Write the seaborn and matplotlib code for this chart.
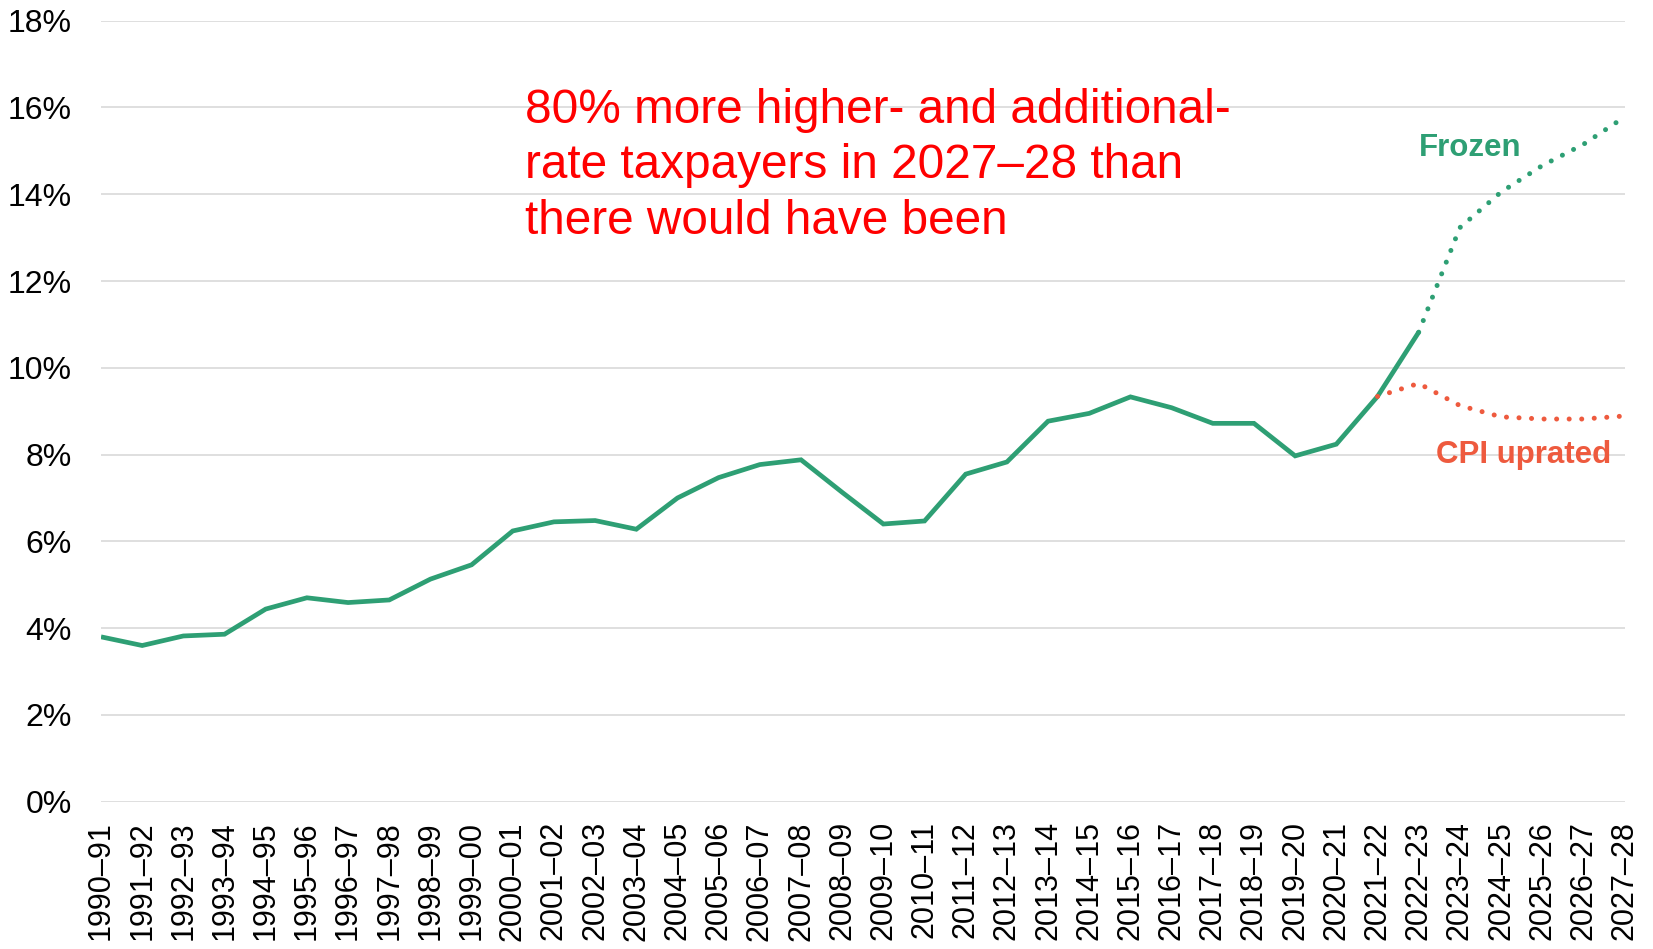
import matplotlib
matplotlib.use("Agg")
import matplotlib.pyplot as plt
import seaborn as sns
import pandas as pd
from matplotlib.ticker import FuncFormatter, MultipleLocator

# Financial years on the x axis
years = [
    "1990–91", "1991–92", "1992–93", "1993–94", "1994–95", "1995–96", "1996–97",
    "1997–98", "1998–99", "1999–00", "2000–01", "2001–02", "2002–03", "2003–04",
    "2004–05", "2005–06", "2006–07", "2007–08", "2008–09", "2009–10", "2010–11",
    "2011–12", "2012–13", "2013–14", "2014–15", "2015–16", "2016–17", "2017–18",
    "2018–19", "2019–20", "2020–21", "2021–22", "2022–23", "2023–24", "2024–25",
    "2025–26", "2026–27", "2027–28",
]

# Share of adults paying higher/additional rate (%), outturn 1990–91 to 2022–23
outturn = [
    3.80, 3.60, 3.82, 3.86, 4.44, 4.70, 4.59, 4.65, 5.13, 5.46,
    6.24, 6.45, 6.48, 6.28, 7.00, 7.47, 7.77, 7.88, 7.13, 6.40,
    6.47, 7.55, 7.83, 8.77, 8.95, 9.33, 9.08, 8.72, 8.72, 7.97,
    8.24, 9.34, 10.82,
]
# Projection with thresholds frozen, 2022–23 to 2027–28
frozen = [10.82, 13.23, 14.05, 14.66, 15.15, 15.78]
# Projection with thresholds uprated by CPI, 2021–22 to 2027–28
cpi_uprated = [9.34, 9.64, 9.13, 8.87, 8.82, 8.82, 8.89]

GREEN = "#2e9f74"
ORANGE = "#ee5a3e"

sns.set_theme(style="white")
plt.rcParams["font.family"] = ["Liberation Sans", "DejaVu Sans"]

df_out = pd.DataFrame({"x": range(len(outturn)), "y": outturn})
df_frz = pd.DataFrame({"x": range(len(outturn) - 1, len(outturn) - 1 + len(frozen)), "y": frozen})
df_cpi = pd.DataFrame({"x": range(len(years) - len(cpi_uprated), len(years)), "y": cpi_uprated})

fig = plt.figure(figsize=(16.53, 9.49), dpi=100)
ax = fig.add_axes([0.0611, 0.1552, 0.9217, 0.8230])

dot = dict(linestyle=(0, (0.01, 2.5)), dash_capstyle="round", linewidth=3.6)
sns.lineplot(data=df_out, x="x", y="y", ax=ax, color=GREEN, linewidth=3.4,
             solid_capstyle="butt", solid_joinstyle="miter", zorder=2)
sns.lineplot(data=df_frz, x="x", y="y", ax=ax, color=GREEN, zorder=2, **dot)
sns.lineplot(data=df_cpi, x="x", y="y", ax=ax, color=ORANGE, zorder=3, **dot)

ax.set_xlim(0, len(years) - 1)
ax.set_ylim(0, 18)
ax.yaxis.set_major_locator(MultipleLocator(2))
ax.yaxis.set_major_formatter(FuncFormatter(lambda v, _: f"{v:.0f}%"))
ax.set_xticks(range(len(years)))
ax.set_xticklabels(years, rotation=90)
ax.tick_params(axis="both", length=0, colors="black")
ax.tick_params(axis="y", pad=21, labelsize=23)
ax.tick_params(axis="x", pad=14, labelsize=22)
ax.set_xlabel("")
ax.set_ylabel("")
for s in ax.spines.values():
    s.set_visible(False)
ax.grid(axis="y", color="#d9d9d9", linewidth=1.2)
ax.set_axisbelow(True)

ax.text(10.30, 16.46,
        "80% more higher- and additional-\nrate taxpayers in 2027–28 than\nthere would have been",
        color="#ff0000", fontsize=34.4, ha="left", va="top", linespacing=1.31)
ax.text(33.25, 15.07, "Frozen", color=GREEN, fontsize=22.5, fontweight="bold",
        ha="center", va="center")
ax.text(34.56, 8.0, "CPI uprated", color=ORANGE, fontsize=22.5, fontweight="bold",
        ha="center", va="center")

fig.savefig("out.png", dpi=100, facecolor="white")
